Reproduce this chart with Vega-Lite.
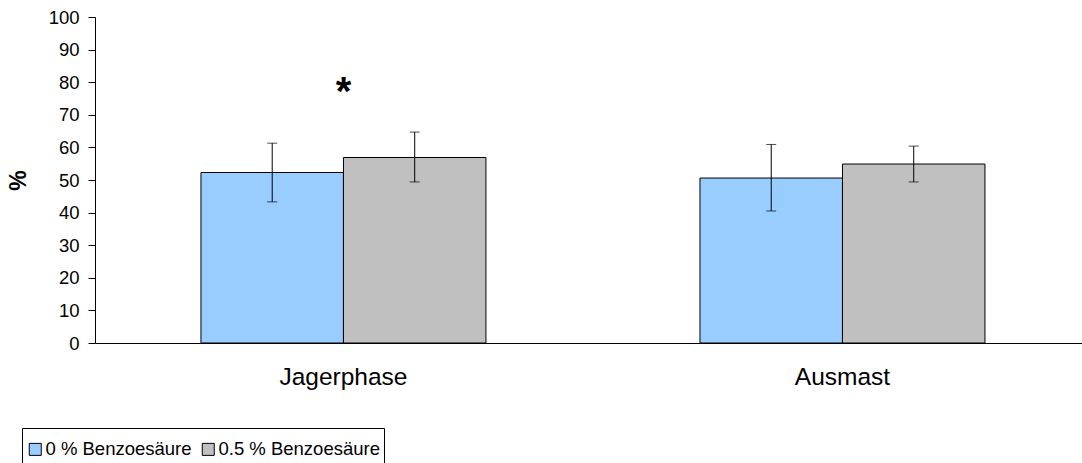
{
  "$schema": "https://vega.github.io/schema/vega-lite/v6.json",
  "width": 987,
  "height": 326,
  "autosize": {"type": "none"},
  "padding": {"left": 95, "top": 17, "right": 0, "bottom": 120},
  "config": {
    "view": {"stroke": null},
    "font": "Liberation Sans",
    "background": "white",
    "axisY": {"tickCount": 10, "labelOverlap": false, "grid": false, "tickSize": 7, "tickColor": "black", "domainColor": "black", "labelFontSize": 18.5, "labelColor": "black", "labelPadding": 9, "titleFontSize": 23, "titleFontWeight": "bold", "titleColor": "black", "titlePadding": 18},
    "axisX": {"labelAngle": 0, "labelFontSize": 24.5, "labelColor": "black", "labelPadding": 22, "tickSize": 0, "domainColor": "black", "domainWidth": 1}
  },
  "datasets": {
    "bars": [
      {"phase": "Jagerphase", "group": "0 % Benzoesäure", "value": 52.3, "low": 43.3, "high": 61.3},
      {"phase": "Jagerphase", "group": "0.5 % Benzoesäure", "value": 56.9, "low": 49.4, "high": 64.7},
      {"phase": "Ausmast", "group": "0 % Benzoesäure", "value": 50.6, "low": 40.5, "high": 60.9},
      {"phase": "Ausmast", "group": "0.5 % Benzoesäure", "value": 54.9, "low": 49.4, "high": 60.4}
    ],
    "marks": [
      {"phase": "Jagerphase", "y": 76.8, "label": "*"}
    ]
  },
  "layer": [
    {
      "data": {"name": "bars"},
      "mark": {"type": "bar", "stroke": "black", "strokeWidth": 1},
      "encoding": {
        "x": {
          "field": "phase", "type": "nominal", "sort": ["Jagerphase", "Ausmast"],
          "scale": {"paddingInner": 0.4289, "paddingOuter": 0.2034, "align": 0.522},
          "title": null
        },
        "xOffset": {"field": "group", "type": "nominal", "sort": ["0 % Benzoesäure", "0.5 % Benzoesäure"], "scale": {"paddingInner": 0, "paddingOuter": 0}},
        "y": {
          "field": "value", "type": "quantitative",
          "scale": {"domain": [0, 100]},
          "title": "%"
        },
        "color": {
          "field": "group", "type": "nominal",
          "scale": {"domain": ["0 % Benzoesäure", "0.5 % Benzoesäure"], "range": ["#99CCFF", "#C0C0C0"]},
          "legend": {"orient": "none", "legendX": -73, "legendY": 411, "direction": "horizontal", "title": " ", "titleFontSize": 8, "titlePadding": 0, "symbolType": "square", "symbolSize": 144, "symbolStrokeColor": "black", "symbolStrokeWidth": 1, "labelFontSize": 18.5, "labelColor": "black", "labelOffset": 1, "labelLimit": 400, "columnPadding": 7, "strokeColor": "black", "fillColor": "white", "padding": 4}
        }
      }
    },
    {
      "data": {"name": "bars"},
      "mark": {"type": "rule", "color": "black", "strokeWidth": 1},
      "encoding": {
        "x": {"field": "phase", "type": "nominal", "sort": ["Jagerphase", "Ausmast"]},
        "xOffset": {"field": "group", "type": "nominal", "sort": ["0 % Benzoesäure", "0.5 % Benzoesäure"]},
        "y": {"field": "low", "type": "quantitative"},
        "y2": {"field": "high"}
      }
    },
    {
      "data": {"name": "bars"},
      "mark": {"type": "tick", "color": "black", "thickness": 1, "size": 10},
      "encoding": {
        "x": {"field": "phase", "type": "nominal", "sort": ["Jagerphase", "Ausmast"]},
        "xOffset": {"field": "group", "type": "nominal", "sort": ["0 % Benzoesäure", "0.5 % Benzoesäure"]},
        "y": {"field": "low", "type": "quantitative"}
      }
    },
    {
      "data": {"name": "bars"},
      "mark": {"type": "tick", "color": "black", "thickness": 1, "size": 10},
      "encoding": {
        "x": {"field": "phase", "type": "nominal", "sort": ["Jagerphase", "Ausmast"]},
        "xOffset": {"field": "group", "type": "nominal", "sort": ["0 % Benzoesäure", "0.5 % Benzoesäure"]},
        "y": {"field": "high", "type": "quantitative"}
      }
    },
    {
      "data": {"name": "marks"},
      "mark": {"type": "text", "fontSize": 40, "fontWeight": "bold", "color": "black", "baseline": "middle", "align": "center"},
      "encoding": {
        "x": {"field": "phase", "type": "nominal", "sort": ["Jagerphase", "Ausmast"]},
        "y": {"field": "y", "type": "quantitative"},
        "text": {"field": "label"}
      }
    },
    {
      "mark": {"type": "rule", "color": "black", "strokeWidth": 1},
      "encoding": {"y": {"datum": 100}}
    }
  ]
}
